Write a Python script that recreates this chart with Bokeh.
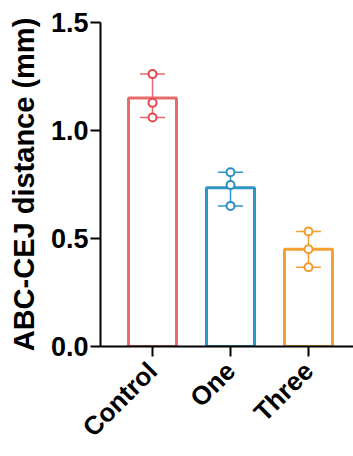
import math
from bokeh.plotting import figure
from bokeh.models import ColumnDataSource, Whisker, TeeHead, FixedTicker, Range1d, NumeralTickFormatter
from bokeh.embed import file_html
from bokeh.resources import INLINE

categories = ["Control", "One", "Three"]
colors = ["#E56B6C", "#2E96C4", "#F4A134"]
point_colors = ["#E5474F", "#2E8DC0", "#F29A2A"]
bar_values = [1.15, 0.735, 0.45]
control_points = [1.261, 1.128, 1.060]
one_points = [0.807, 0.748, 0.651]
three_points = [0.532, 0.450, 0.367]
y_ticks = [0.0, 0.5, 1.0, 1.5]

all_points = [control_points, one_points, three_points]
xs = list(range(len(categories)))

p = figure(width=353, height=456, output_backend="svg", toolbar_location=None,
           x_range=Range1d(-0.667, 2.577), y_range=Range1d(0, 1.5),
           min_border_left=100, min_border_right=0, min_border_top=22, min_border_bottom=107)
p.outline_line_color = None
p.grid.visible = False
p.background_fill_color = "white"

bar_src = ColumnDataSource(dict(x=xs, top=bar_values, color=colors))
p.vbar(x="x", top="top", bottom=0, width=0.615, source=bar_src,
       fill_color=None, line_color="color", line_width=3)

# error bars (range)
lo = [min(v) for v in all_points]
hi = [max(v) for v in all_points]
err_src = ColumnDataSource(dict(base=xs, lower=lo, upper=hi, color=colors))
w = Whisker(base="base", lower="lower", upper="upper", source=err_src,
            line_color="color", line_width=1.5,
            upper_head=TeeHead(size=25, line_width=1.5),
            lower_head=TeeHead(size=25, line_width=1.5))
w.upper_head.line_color = {"field": "color"}
w.lower_head.line_color = {"field": "color"}
p.add_layout(w)

px, py, pc = [], [], []
for i, vals in enumerate(all_points):
    for v in vals:
        px.append(i); py.append(v); pc.append(point_colors[i])
pt_src = ColumnDataSource(dict(x=px, y=py, color=pc))
p.scatter(x="x", y="y", source=pt_src, size=8, fill_color="white",
          line_color="color", line_width=2)

font = "Liberation Sans"
for ax in (p.xaxis[0], p.yaxis[0]):
    ax.axis_line_width = 2
    ax.axis_line_color = "black"
    ax.major_tick_line_width = 2
    ax.major_tick_in = 0
    ax.major_tick_out = 10
    ax.minor_tick_line_color = None
    ax.major_label_text_font = font
    ax.major_label_text_font_style = "bold"
    ax.major_label_text_color = "black"

p.yaxis.major_label_text_font_size = "27px"
p.xaxis.major_label_text_font_size = "26px"

p.yaxis.ticker = FixedTicker(ticks=y_ticks)
p.yaxis.formatter = NumeralTickFormatter(format="0.0")
p.yaxis.major_label_standoff = 2
p.yaxis.axis_label = "ABC-CEJ distance (mm)"
p.yaxis.axis_label_text_font = font
p.yaxis.axis_label_text_font_style = "bold"
p.yaxis.axis_label_text_font_size = "29px"
p.yaxis.axis_label_text_color = "black"
p.yaxis.axis_label_standoff = 8

p.xaxis.ticker = FixedTicker(ticks=xs)
p.xaxis.major_label_overrides = {i: c for i, c in enumerate(categories)}
p.xaxis.major_label_orientation = math.pi / 4
p.xaxis.major_label_standoff = 10

open("out.html", "w").write(file_html(p, INLINE))
